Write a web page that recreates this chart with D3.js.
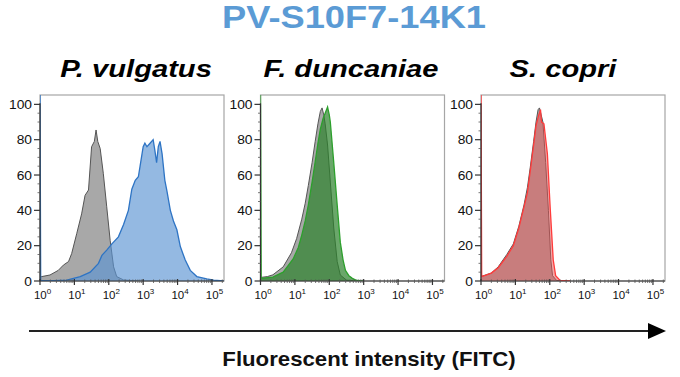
<!DOCTYPE html>
<html>
<head>
<meta charset="utf-8">
<script src="https://cdn.jsdelivr.net/npm/d3@7"></script>
<style>
  body { margin: 0; background: #fff; }
  svg { display: block; font-family: "Liberation Sans", Arial, sans-serif; }
</style>
</head>
<body>
<div id="chart"></div>
<script>
const titleText = "PV-S10F7-14K1";
const panelNames = ["P. vulgatus", "F. duncaniae", "S. copri"];
const xLabel = "Fluorescent intensity (FITC)";
const xTickExps = [0, 1, 2, 3, 4, 5];
const yTicks = [0, 20, 40, 60, 80, 100];

// [log10(intensity), % of max]
const controlVulgatus = [[0,2.5],[0.05,2.5],[0.29,3.4],[0.53,6],[0.68,9],[0.83,11],[0.92,15.5],[1.07,27],[1.21,38],[1.31,48.5],[1.41,51.5],[1.5,76],[1.58,79],[1.63,85.5],[1.68,79],[1.75,75],[1.84,61],[1.94,42],[2.04,23],[2.14,8],[2.23,2.5],[2.43,0.6],[2.91,0]];
const stainedVulgatus = [[0,110],[0.02,0.3],[0.4,0.2],[0.78,0.5],[1.17,2.5],[1.46,5],[1.7,10],[1.8,14.5],[1.94,17.5],[2.09,21],[2.28,25],[2.43,32],[2.57,40],[2.67,52],[2.77,57],[2.86,59],[2.91,65],[3.0,76],[3.05,78],[3.11,76],[3.2,78],[3.29,80],[3.34,74],[3.39,67],[3.44,76],[3.49,79],[3.55,72],[3.63,57],[3.69,51],[3.79,40],[3.88,34],[3.98,29],[4.08,19.5],[4.22,12],[4.37,6],[4.56,2.5],[4.85,1.2],[5.05,0.5],[5.34,0]];
const controlDuncaniae = [[0,2],[0.2,2.5],[0.36,3.5],[0.66,8],[0.9,16],[1.05,24],[1.2,35],[1.3,44],[1.39,54],[1.5,67],[1.59,79],[1.67,89],[1.74,96],[1.79,98],[1.84,94],[1.88,89],[1.95,77],[2.03,56],[2.13,30],[2.23,11],[2.32,3.4],[2.5,0.5],[2.8,0]];
const stainedDuncaniae = [[0,110],[0.02,1.5],[0.36,2.2],[0.66,5],[0.95,12.5],[1.1,19],[1.2,26],[1.3,34],[1.39,43],[1.5,56],[1.59,67.5],[1.67,78],[1.74,86],[1.82,92],[1.88,95],[1.95,98.5],[2.0,94],[2.03,90],[2.13,67],[2.23,43],[2.32,22],[2.4,12],[2.47,6],[2.57,3],[2.67,1.5],[2.8,0.3],[3.0,0]];
const controlCopri = [[0,2.5],[0.3,4.5],[0.5,8],[0.75,15],[0.94,21],[1.1,31],[1.25,43],[1.35,53],[1.43,64],[1.53,79],[1.6,90],[1.66,97],[1.7,98],[1.75,94],[1.8,90],[1.88,67],[1.96,40],[2.03,12],[2.08,3],[2.2,0.3],[2.5,0]];
const stainedCopri = [[0,110],[0.02,2.5],[0.3,4.5],[0.5,7.5],[0.75,14],[0.94,20],[1.1,30],[1.25,42],[1.35,50],[1.43,62],[1.53,77],[1.6,88],[1.68,94],[1.73,97],[1.76,90],[1.83,89],[1.93,72],[2.01,42],[2.1,12],[2.17,3],[2.3,0.3],[2.6,0]];

const controls = [controlVulgatus, controlDuncaniae, controlCopri];
const stained = [stainedVulgatus, stainedDuncaniae, stainedCopri];
const stainFills = ["rgba(91,148,211,0.65)", "rgba(43,129,43,0.7)", "rgba(232,82,82,0.5)"];
const stainLines = ["#2e74c4", "#2ca02c", "#ff3b3b"];

const width = 680, height = 377;
const panelLeft = [40, 260.5, 481];
const titleCenters = [136, 351, 563];
const plotW = 184, plotTop = 95, plotBottom = 281;

const svg = d3.select("#chart").append("svg")
    .attr("width", width)
    .attr("height", height);

// the source image is stretched sideways, so text gets a little x scale
const stretchText = (sel, x, y, sx) => sel.attr("transform", `translate(${x},${y}) scale(${sx},1)`);

svg.append("text")
    .text(titleText)
    .attr("text-anchor", "middle")
    .attr("font-size", 31)
    .attr("font-weight", "bold")
    .attr("fill", "#5b9bd5")
    .call(stretchText, 354, 28, 1.17);

const x = d3.scaleLinear().domain([0, 5.35]).range([0, plotW]);
const y = d3.scaleLinear().domain([0, 105.3]).range([plotBottom, plotTop]);

const area = d3.area()
    .x(d => x(d[0]))
    .y0(y(0))
    .y1(d => y(d[1]));
const line = d3.line()
    .x(d => x(d[0]))
    .y(d => y(d[1]));

panelNames.forEach((name, i) => {
    svg.append("text")
        .text(name)
        .attr("text-anchor", "middle")
        .attr("font-size", 23.5)
        .attr("font-weight", "bold")
        .attr("font-style", "italic")
        .attr("fill", "#000")
        .call(stretchText, titleCenters[i], 77, 1.24);

    const g = svg.append("g").attr("transform", `translate(${panelLeft[i]},0)`);

    g.append("clipPath").attr("id", `clip${i}`)
        .append("rect")
        .attr("x", 0).attr("y", plotTop)
        .attr("width", plotW).attr("height", plotBottom - plotTop);

    // frame
    g.append("rect")
        .attr("x", 0).attr("y", plotTop)
        .attr("width", plotW).attr("height", plotBottom - plotTop)
        .attr("fill", "none")
        .attr("stroke", "#a6a6a6")
        .attr("stroke-width", 1.2);

    const hist = g.append("g").attr("clip-path", `url(#clip${i})`);
    hist.append("path").datum(controls[i])
        .attr("d", area)
        .attr("fill", "#a8a8a8");
    hist.append("path").datum(controls[i])
        .attr("d", line)
        .attr("fill", "none")
        .attr("stroke", "#555")
        .attr("stroke-width", 1);
    hist.append("path").datum(stained[i])
        .attr("d", area)
        .attr("fill", stainFills[i]);
    hist.append("path").datum(stained[i])
        .attr("d", line)
        .attr("fill", "none")
        .attr("stroke", stainLines[i])
        .attr("stroke-width", 1.3);

    // y axis
    const yMinor = d3.range(0, 101, 5).filter(v => v % 20 !== 0);
    const yAxis = g.append("g").attr("class", "y-axis");
    yAxis.append("line")
        .attr("x1", 0).attr("x2", 0)
        .attr("y1", y(100) - 1).attr("y2", plotBottom)
        .attr("stroke", "#333").attr("stroke-width", 1.2);
    yAxis.selectAll(".minor").data(yMinor).join("line")
        .attr("class", "minor")
        .attr("x1", -2.5).attr("x2", 0)
        .attr("y1", d => y(d)).attr("y2", d => y(d))
        .attr("stroke", "#555").attr("stroke-width", 0.8);
    yAxis.selectAll(".major").data(yTicks).join("line")
        .attr("class", "major")
        .attr("x1", -6).attr("x2", 0)
        .attr("y1", d => y(d)).attr("y2", d => y(d))
        .attr("stroke", "#333").attr("stroke-width", 1.2);
    yAxis.selectAll("text").data(yTicks).join("text")
        .text(d => d)
        .attr("text-anchor", "end")
        .attr("dominant-baseline", "central")
        .attr("font-size", 12)
        .attr("fill", "#111")
        .each(function(d) { d3.select(this).call(stretchText, -8, y(d) + 0.5, 1.15); });

    // x axis, log decades
    const xMinor = [];
    xTickExps.forEach(e => d3.range(2, 10).forEach(k => {
        const v = e + Math.log10(k);
        if (v < 5.35) xMinor.push(v);
    }));
    const xAxis = g.append("g").attr("class", "x-axis");
    xAxis.append("line")
        .attr("x1", 0).attr("x2", plotW)
        .attr("y1", plotBottom).attr("y2", plotBottom)
        .attr("stroke", "#333").attr("stroke-width", 1.2);
    xAxis.selectAll(".minor").data(xMinor).join("line")
        .attr("class", "minor")
        .attr("x1", d => x(d)).attr("x2", d => x(d))
        .attr("y1", plotBottom - 1.5).attr("y2", plotBottom + 2)
        .attr("stroke", "#555").attr("stroke-width", 0.8);
    xAxis.selectAll(".major").data(xTickExps).join("line")
        .attr("class", "major")
        .attr("x1", d => x(d)).attr("x2", d => x(d))
        .attr("y1", plotBottom - 2).attr("y2", plotBottom + 4)
        .attr("stroke", "#333").attr("stroke-width", 1.2);
    const lbl = xAxis.selectAll("text").data(xTickExps).join("text")
        .attr("x", d => x(d) + 2.5)
        .attr("y", 298.5)
        .attr("text-anchor", "middle")
        .attr("font-size", 11.5)
        .attr("fill", "#111");
    lbl.append("tspan").text("10");
    lbl.append("tspan").text(d => d)
        .attr("font-size", 8)
        .attr("dy", -5);
});

// intensity arrow
const arrowY = 331;
svg.append("line")
    .attr("x1", 29).attr("x2", 650)
    .attr("y1", arrowY).attr("y2", arrowY)
    .attr("stroke", "#222")
    .attr("stroke-width", 2.2);
svg.append("path")
    .attr("d", d3.line()([[648, arrowY - 8], [666, arrowY], [648, arrowY + 8]]) + "Z")
    .attr("fill", "#000");

svg.append("text")
    .text(xLabel)
    .attr("text-anchor", "middle")
    .attr("font-size", 20)
    .attr("font-weight", "bold")
    .attr("fill", "#111")
    .call(stretchText, 369, 366, 1.11);
</script>
</body>
</html>
